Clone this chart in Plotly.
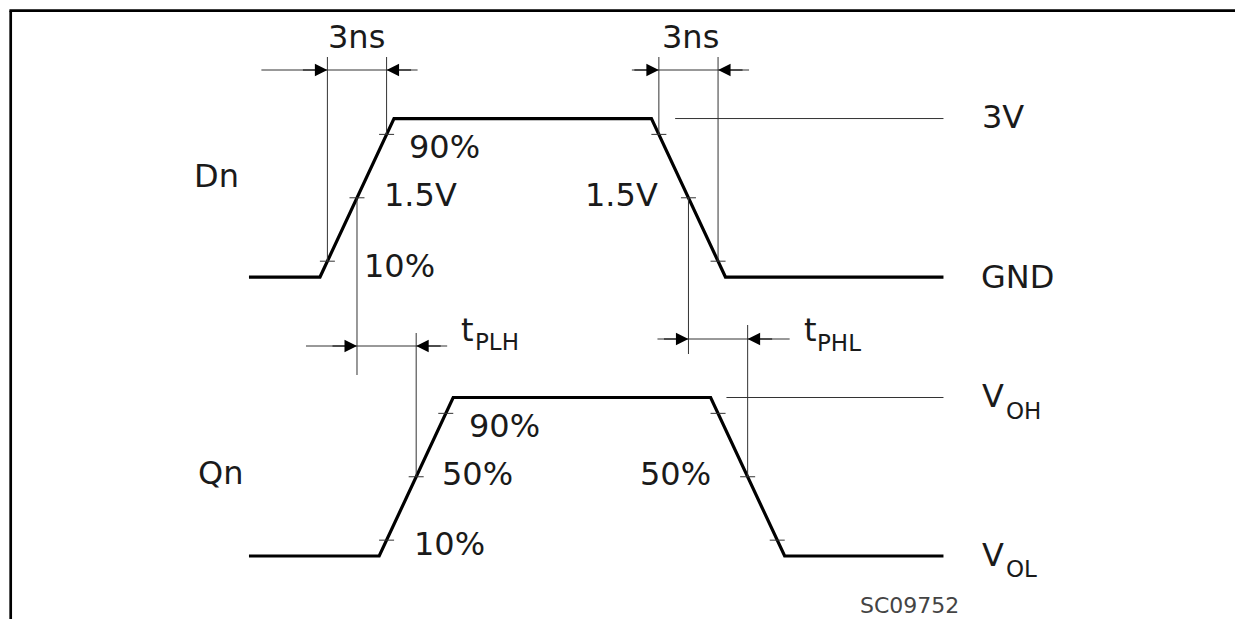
import plotly.graph_objects as go

W, H = 1235, 619                       # browser window

# ---------------- data (time in ns, levels normalized 0..1) ----------------
dn_time = [-3.6, 0.0, 3.75, 16.8, 20.55, 31.6]
dn_level = [0, 0, 1, 1, 0, 0]
qn_time = [-3.6, 3.0, 6.75, 19.8, 23.55, 31.6]
qn_level = [0, 0, 1, 1, 0, 0]
edge_marks = [0.1, 0.5, 0.9]          # 10 %, 50 %, 90 % points
ref_3v_time = [18.0, 31.6]            # thin "3V" reference line
ref_voh_time = [20.6, 31.6]           # thin "VOH" reference line

# ---------------- layout constants ----------------
PAGE = 0.0                             # page margin removed via post_script
FW, FH = W - PAGE, H - PAGE
DN_OFF = 1.76                          # vertical offset of Dn trace
PX_NS = 19.73                          # pixels per ns
X0_PX = 320.0 - PAGE                   # figure pixel x of t = 0
PX_U = 158.5                           # pixels per level unit
Y0_PX = 556.0 - PAGE                   # figure pixel y of Qn low level
XR = [(0 - X0_PX) / PX_NS, (FW - X0_PX) / PX_NS]
YR = [(Y0_PX - FH) / PX_U, Y0_PX / PX_U]


def dx(px):   # pixel length -> ns
    return px / PX_NS


def ylev(py):  # screen pixel row -> data y
    return (Y0_PX - (py - PAGE)) / PX_U


WAVE = "#000000"
THIN = "#333333"
TXT = "#1a1a1a"
FONT = "DejaVu Sans"


def edges(times, levels):
    out = []
    for i in range(len(times) - 1):
        if levels[i] != levels[i + 1]:
            out.append((times[i], times[i + 1], levels[i + 1] > levels[i]))
    return out


def cross(edge, frac):
    t0, t1, rising = edge
    f = frac if rising else 1 - frac
    return t0 + f * (t1 - t0)


dn_edges = edges(dn_time, dn_level)
qn_edges = edges(qn_time, qn_level)
dn_rise, dn_fall = dn_edges
qn_rise, qn_fall = qn_edges

fig = go.Figure()

# waveforms
fig.add_trace(go.Scatter(x=dn_time, y=[DN_OFF + v for v in dn_level], mode="lines",
                         line=dict(color=WAVE, width=3.2), hoverinfo="skip"))
fig.add_trace(go.Scatter(x=qn_time, y=list(qn_level), mode="lines",
                         line=dict(color=WAVE, width=3.2), hoverinfo="skip"))

# tick marks at 10/50/90 %
tx, ty = [], []
half = dx(7.5)
for eds, off in ((dn_edges, DN_OFF), (qn_edges, 0.0)):
    for e in eds:
        for f in edge_marks:
            c = cross(e, f)
            tx += [c - half, c + half, None]
            ty += [off + f, off + f, None]
fig.add_trace(go.Scatter(x=tx, y=ty, mode="lines", line=dict(color=THIN, width=1),
                         hoverinfo="skip"))

# thin lines: references and dimension lines
lx, ly = [], []


def seg(x0, y0, x1, y1):
    lx.extend([x0, x1, None])
    ly.extend([y0, y1, None])


seg(ref_3v_time[0], DN_OFF + 1, ref_3v_time[1], DN_OFF + 1)
seg(ref_voh_time[0], 1.0, ref_voh_time[1], 1.0)

arrows = []
# (xa, ya_from, ya_to, xb, yb_from, yb_to, y_arrow, ext_left_px, ext_right_px)
dims = [
    (cross(dn_rise, 0.1), DN_OFF + 0.1, ylev(57), cross(dn_rise, 0.9), DN_OFF + 0.9, ylev(57), ylev(70), 66, 31),
    (cross(dn_fall, 0.9), DN_OFF + 0.9, ylev(57), cross(dn_fall, 0.1), DN_OFF + 0.1, ylev(57), ylev(70), 27, 31),
    (cross(dn_rise, 0.5), DN_OFF + 0.5, ylev(375), cross(qn_rise, 0.5), 0.5, ylev(333), ylev(346), 51, 31),
    (cross(dn_fall, 0.5), DN_OFF + 0.5, ylev(354), cross(qn_fall, 0.5), 0.5, ylev(325), ylev(339), 31, 42),
]
for xa, ya0, ya1, xb, yb0, yb1, yarr, el, er in dims:
    seg(xa, ya0, xa, ya1)
    seg(xb, yb0, xb, yb1)
    seg(xa - dx(el), yarr, xb + dx(er), yarr)
    arrows.append((xa, yarr, xa - dx(26)))
    arrows.append((xb, yarr, xb + dx(26)))

fig.add_trace(go.Scatter(x=lx, y=ly, mode="lines", line=dict(color=THIN, width=1),
                         hoverinfo="skip"))

annotations = []
for x, y, ax in arrows:
    annotations.append(dict(x=x, y=y, ax=ax, ay=y, xref="x", yref="y", axref="x", ayref="y",
                            text="", showarrow=True, arrowhead=2, arrowsize=2.5, arrowwidth=1,
                            arrowcolor="#000", standoff=0, startstandoff=0))

# text labels: (text, screen px_x, screen px_y (cap centre), anchor, size, color)
S = 32
SS = 23
labels = [
    ("3ns", 356, 37, "center", S, TXT),
    ("3ns", 690, 37, "center", S, TXT),
    ("3V", 980, 117, "left", S, TXT),
    ("GND", 979, 277, "left", S, TXT),
    ("Dn", 192, 176, "left", S, TXT),
    ("Qn", 196, 473, "left", S, TXT),
    ("90%", 407, 147, "left", S, TXT),
    ("1.5V", 382, 195, "left", S, TXT),
    ("10%", 362, 266, "left", S, TXT),
    ("1.5V", 660, 195, "right", S, TXT),
    ("t", 459, 330, "left", S, TXT),
    ("PLH", 473, 342, "left", SS, TXT),
    ("t", 802, 330, "left", S, TXT),
    ("PHL", 815, 343, "left", SS, TXT),
    ("90%", 467, 426, "left", S, TXT),
    ("50%", 440, 474, "left", S, TXT),
    ("10%", 412, 544, "left", S, TXT),
    ("50%", 713, 474, "right", S, TXT),
    ("V", 980, 396, "left", S, TXT),
    ("OH", 1004, 411, "left", SS, TXT),
    ("V", 980, 555, "left", S, TXT),
    ("OL", 1004, 569, "left", SS, TXT),
    ("SC09752", 858, 605, "left", 22, "#444444"),
]
for t, px, py, anc, size, col in labels:
    annotations.append(dict(x=(px - PAGE) / FW, y=1 - (py - PAGE) / FH, xref="paper", yref="paper",
                            text=t, showarrow=False, xanchor=anc, yanchor="middle",
                            font=dict(family=FONT, size=size, color=col)))

# frame (left and top border)
FX = (10.7 - PAGE) / FW
FY = 1 - (10.7 - PAGE) / FH
shapes = [
    dict(type="line", xref="paper", yref="paper", x0=FX, x1=FX, y0=0, y1=FY,
         line=dict(color="#000", width=2.7)),
    dict(type="line", xref="paper", yref="paper", x0=FX - 1.3 / FW, x1=1, y0=FY, y1=FY,
         line=dict(color="#000", width=2.7)),
]

fig.update_layout(
    width=FW, height=FH, margin=dict(l=0, r=0, t=0, b=0),
    paper_bgcolor="white", plot_bgcolor="white", showlegend=False,
    xaxis=dict(range=XR, visible=False, fixedrange=True),
    yaxis=dict(range=YR, visible=False, fixedrange=True),
    annotations=annotations, shapes=shapes,
)

fig.write_html(
    "out.html",
    config={"displayModeBar": False},
    post_script="document.body.style.margin='0';document.body.style.overflow='hidden';",
)
